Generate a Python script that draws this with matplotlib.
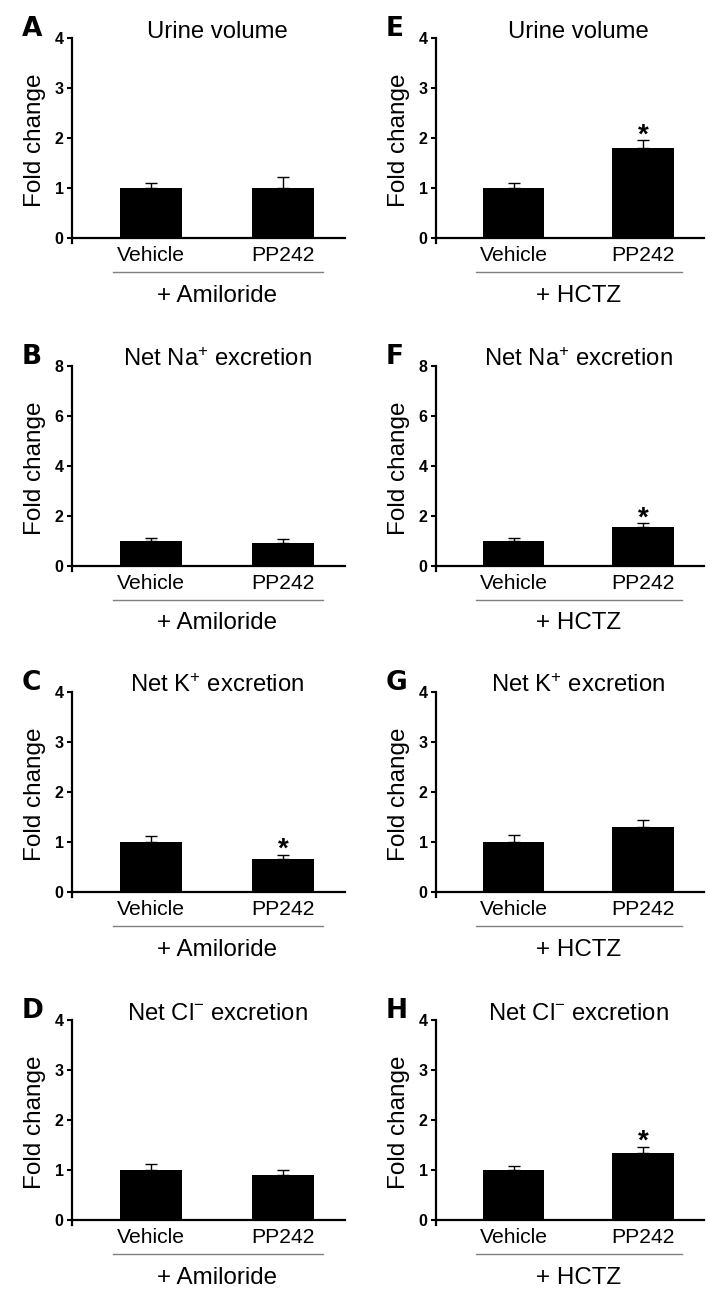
import matplotlib
matplotlib.use("Agg")
import matplotlib.pyplot as plt
import matplotlib.transforms as mtransforms
from matplotlib.lines import Line2D

plt.rcParams['font.family'] = ['Liberation Sans', 'DejaVu Sans']
plt.rcParams['mathtext.fontset'] = 'custom'
plt.rcParams['mathtext.rm'] = 'Liberation Sans'
plt.rcParams['mathtext.it'] = 'Liberation Sans:italic'
plt.rcParams['mathtext.bf'] = 'Liberation Sans:bold'

# data
groups = ['Vehicle', 'PP242']
titles = ['Urine volume', 'Net Na$^{+}$ excretion',
          'Net K$^{+}$ excretion', 'Net Cl$^{-}$ excretion']
ymax = [4, 8, 4, 4]

amiloride_letters = ['A', 'B', 'C', 'D']
amiloride_means = [[1.0, 1.0], [1.0, 0.93], [1.0, 0.67], [1.0, 0.90]]
amiloride_err = [[0.10, 0.22], [0.12, 0.15], [0.12, 0.08], [0.12, 0.11]]
amiloride_star = [[False, False], [False, False], [False, True], [False, False]]

hctz_letters = ['E', 'F', 'G', 'H']
hctz_means = [[1.0, 1.80], [1.0, 1.54], [1.0, 1.30], [1.0, 1.35]]
hctz_err = [[0.10, 0.15], [0.12, 0.17], [0.14, 0.14], [0.09, 0.11]]
hctz_star = [[False, True], [False, True], [False, False], [False, True]]

W, H = 728, 1308
fig = plt.figure(figsize=(W / 100, H / 100), dpi=100)

row_zero = [238, 566, 892, 1220]   # pixel y of the zero line
col_x = [(72, 345), (436, 704)]    # pixel x of the axes


def px(pts):
    return pts * 0.72


def draw_panel(x0, x1, zero, letter, title, top, means, errs, stars, drug):
    below = top * 5 / 200.0
    axb = zero + 5
    axt = zero - 200
    ax = fig.add_axes([x0 / W, 1 - axb / H, (x1 - x0) / W, (axb - axt) / H])
    xs = [0, 1]
    ax.bar(xs, means, width=0.475, color='black', zorder=2)
    ax.errorbar(xs, means, yerr=[[0, 0], errs], fmt='none', ecolor='black',
                elinewidth=1.0, capsize=4, capthick=1.0, zorder=1)
    for x, m, e, s in zip(xs, means, errs, stars):
        if s:
            ax.annotate('*', (x, m + e), xytext=(0, -1.5), textcoords='offset points',
                        ha='center', va='baseline', fontsize=20, fontweight='bold')

    ax.set_xlim(-0.6, 1.47)
    ax.set_ylim(-below, top)
    ax.spines['top'].set_visible(False)
    ax.spines['right'].set_visible(False)
    ax.spines['bottom'].set_position(('data', 0))
    for sp in ['left', 'bottom']:
        ax.spines[sp].set_linewidth(1.6)
    ax.set_yticks([top * i / 4 for i in range(5)])
    ax.set_yticklabels([str(int(top * i / 4)) for i in range(5)],
                       fontsize=11.5, fontweight='bold')
    ax.tick_params(axis='y', length=3.6, width=1.5, pad=2.5)
    ax.set_xticks(xs)
    ax.set_xticklabels(groups, fontsize=15.2)
    ax.tick_params(axis='x', length=0, pad=5.5)
    ax.set_ylabel('Fold change', fontsize=17.5, labelpad=6)

    ax.text(0.5, top, title, ha='center', va='baseline', fontsize=17.2)

    # grey line under the two groups + drug name
    off = mtransforms.ScaledTranslation(0, -34 / 100, fig.dpi_scale_trans)
    ax.add_line(Line2D([-0.29, 1.30], [0, 0], color='#808080', lw=1.0,
                       transform=ax.transData + off, clip_on=False))
    ax.annotate(drug, (0.5, 0), xytext=(0, -px(63.5)), textcoords='offset points',
                ha='center', va='baseline', fontsize=17.4)

    fig.text((x0 - 50) / W, 1 - (axt - 2) / H, letter, ha='left', va='baseline',
             fontsize=19, fontweight='bold', family='DejaVu Sans')


for i in range(4):
    draw_panel(col_x[0][0], col_x[0][1], row_zero[i], amiloride_letters[i], titles[i],
               ymax[i], amiloride_means[i], amiloride_err[i], amiloride_star[i],
               '+ Amiloride')
    draw_panel(col_x[1][0], col_x[1][1], row_zero[i], hctz_letters[i], titles[i],
               ymax[i], hctz_means[i], hctz_err[i], hctz_star[i], '+ HCTZ')

fig.savefig('out.png', dpi=100)
